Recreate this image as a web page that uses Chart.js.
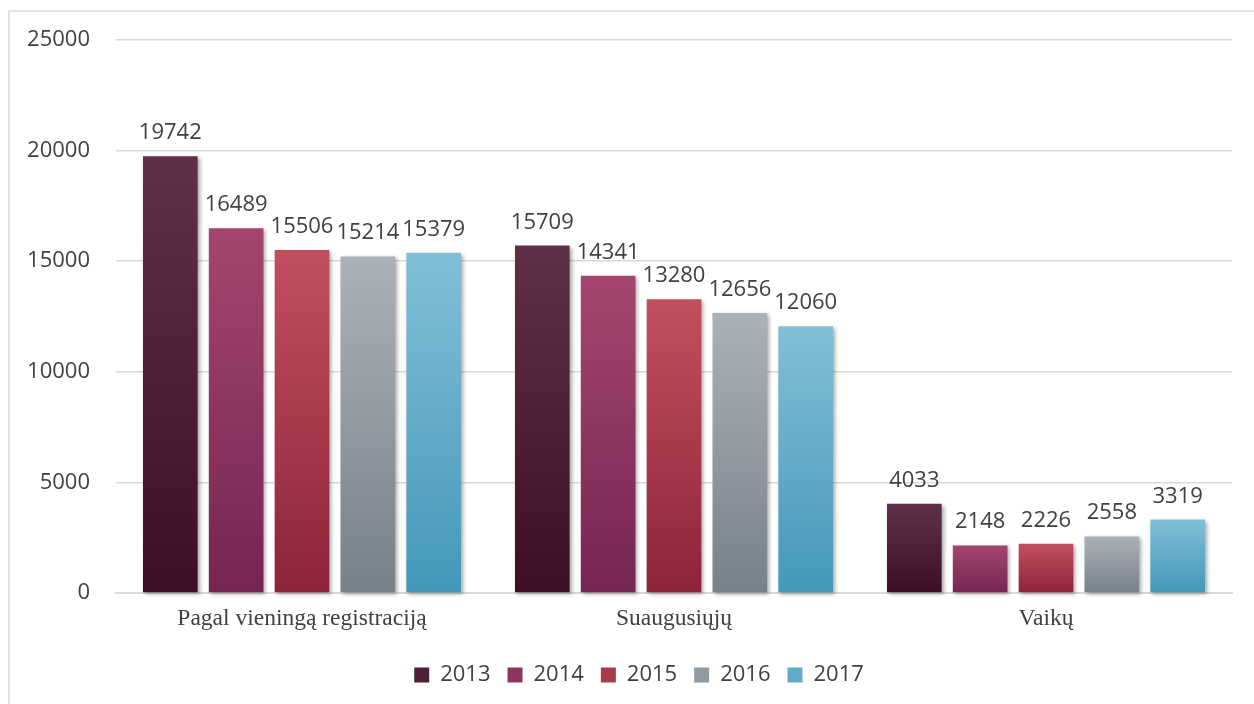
<!DOCTYPE html>
<html>
<head>
<meta charset="utf-8">
<script src="https://cdn.jsdelivr.net/npm/chart.js@4"></script>
<style>
  html, body { margin: 0; padding: 0; background: #fff; overflow: hidden; }
  #wrap { position: relative; width: 1254px; height: 704px; }
  #frame { position: absolute; left: 8px; top: 10px; width: 1260px; height: 720px; border: 2px solid #e3e3e3; box-sizing: border-box; }
  canvas { position: absolute; left: 0; top: 0; }
</style>
</head>
<body>
<div id="wrap">
  <div id="frame"></div>
  <canvas id="chart" width="1254" height="704"></canvas>
</div>
<script>
// kategorier og serier
const categories = ['Pagal vieningą registraciją', 'Suaugusiųjų', 'Vaikų']
const years = ['2013', '2014', '2015', '2016', '2017']
const values2013 = [19742, 15709, 4033]
const values2014 = [16489, 14341, 2148]
const values2015 = [15506, 13280, 2226]
const values2016 = [15214, 12656, 2558]
const values2017 = [15379, 12060, 3319]
const yTicks = [0, 5000, 10000, 15000, 20000, 25000]

// farver: top og bund af gradient
const topColors = ['#603049', '#a4466f', '#c24f5f', '#abb1b8', '#82bfd7']
const bottomColors = ['#3e0e27', '#762453', '#8d2438', '#77818a', '#4398b9']
const midColors = ['#4f1f38', '#8d3561', '#a73a4b', '#9199a1', '#62abc8']

const allValues = [values2013, values2014, values2015, values2016, values2017]

// gradient for hver søjle
function barGradient(ctx, i) {
  const chart = ctx.chart
  if (!chart.chartArea || ctx.type !== 'data') return midColors[i]
  const y = chart.scales.y
  const top = y.getPixelForValue(ctx.raw)
  const base = y.getPixelForValue(0)
  if (!isFinite(top) || base - top < 1) return midColors[i]
  const g = chart.ctx.createLinearGradient(0, top, 0, base)
  g.addColorStop(0, topColors[i])
  g.addColorStop(1, bottomColors[i])
  return g
}

const datasets = years.map((year, i) => ({
  label: year,
  data: allValues[i],
  backgroundColor: ctx => barGradient(ctx, i),
  borderWidth: 0,
  barPercentage: 0.83,
  categoryPercentage: 0.885,
  clip: false
}))

// skygge under søjlerne
const shadowPlugin = {
  id: 'shadow',
  beforeDatasetDraw(chart) {
    const c = chart.ctx
    c.save()
    c.shadowColor = 'rgba(0,0,0,0.35)'
    c.shadowBlur = 4
    c.shadowOffsetX = 2
    c.shadowOffsetY = 2
  },
  afterDatasetDraw(chart) {
    chart.ctx.restore()
  }
}

// tal over søjlerne
const labelPlugin = {
  id: 'barLabels',
  afterDatasetsDraw(chart) {
    const c = chart.ctx
    c.save()
    c.font = '22px "Open Sans", sans-serif'
    c.fillStyle = '#404040'
    c.textAlign = 'center'
    c.textBaseline = 'alphabetic'
    chart.data.datasets.forEach((ds, i) => {
      chart.getDatasetMeta(i).data.forEach((bar, j) => {
        c.fillText(ds.data[j], bar.x, bar.y - 17)
      })
    })
    c.restore()
  }
}

new Chart(document.getElementById('chart'), {
  type: 'bar',
  data: { labels: categories, datasets: datasets },
  options: {
    responsive: false,
    animation: false,
    devicePixelRatio: 1,
    layout: { padding: { left: 24, right: 0, top: 40, bottom: 8 } },
    scales: {
      x: {
        grid: { display: false, drawTicks: false },
        border: { color: '#d9d9d9', width: 2 },
        ticks: {
          padding: 12,
          color: '#404040',
          font: { family: '"Liberation Serif", "Times New Roman", serif', size: 23.5 }
        },
        afterFit: s => { s.height = 54 }
      },
      y: {
        min: 0,
        max: 25000,
        afterBuildTicks: s => { s.ticks = yTicks.map(v => ({ value: v })) },
        grid: { color: '#d9d9d9', lineWidth: 1.5, drawTicks: false },
        border: { display: false },
        ticks: {
          padding: 26,
          color: '#404040',
          font: { family: '"Open Sans", sans-serif', size: 22 },
          callback: v => String(v)
        },
        afterFit: s => { s.width = 92 }
      },
      // tom akse til højre, kun for at give plads
      y2: {
        position: 'right',
        grid: { display: false, drawTicks: false },
        border: { display: false },
        ticks: { display: false },
        afterFit: s => { s.width = 22 }
      }
    },
    plugins: {
      legend: {
        position: 'bottom',
        labels: {
          boxWidth: 15,
          boxHeight: 15,
          padding: 17,
          color: '#404040',
          font: { family: '"Open Sans", sans-serif', size: 22 },
          generateLabels: chart => chart.data.datasets.map((ds, i) => ({
            text: ds.label,
            fillStyle: midColors[i],
            strokeStyle: midColors[i],
            lineWidth: 0,
            fontColor: '#404040',
            datasetIndex: i
          }))
        }
      },
      tooltip: { enabled: false }
    }
  },
  plugins: [shadowPlugin, labelPlugin]
})
</script>
</body>
</html>
